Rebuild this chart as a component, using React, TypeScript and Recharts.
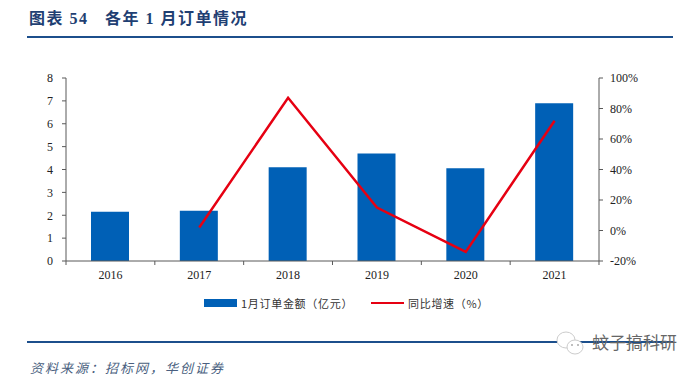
import { Bar, ComposedChart, Line, Legend, XAxis, YAxis } from 'recharts';

const years = ['2016', '2017', '2018', '2019', '2020', '2021'];
const orderAmount = [2.15, 2.2, 4.1, 4.7, 4.05, 6.9];
const yoyGrowth = [null, 2, 87, 15, -14, 72];
const leftTicks = [0, 1, 2, 3, 4, 5, 6, 7, 8];
const rightTicks = [-20, 0, 20, 40, 60, 80, 100];

const chartData = years.map((year, i) => ({
  year,
  amount: orderAmount[i],
  growth: yoyGrowth[i],
}));

const axisColor = '#595959';
const serif = '"Liberation Serif", "Noto Sans CJK SC", serif';
const cjk = '"Noto Sans CJK SC", sans-serif';
const bandWidth = 88.83;

// ticks in the reference sit between the categories, not under them
function YearTick({ x, y, payload, index }: any) {
  return (
    <g>
      {index === 0 && (
        <line x1={x - bandWidth / 2} x2={x - bandWidth / 2} y1={261} y2={265} stroke={axisColor} />
      )}
      <line x1={x + bandWidth / 2} x2={x + bandWidth / 2} y1={261} y2={265} stroke={axisColor} />
      <text x={x} y={y + 10} textAnchor="middle" fontFamily={serif} fontSize={12} fill="#222">
        {payload.value}
      </text>
    </g>
  );
}

function ChartLegend() {
  const label = { fontFamily: cjk, fontSize: 11, color: '#333', letterSpacing: 0.7 };
  return (
    <div style={{ position: 'relative', height: 14, width: 320 }}>
      <div style={{ position: 'absolute', left: 0, top: 3, width: 33, height: 8, background: '#0060b6' }} />
      <div style={{ position: 'absolute', left: 37, top: -1, whiteSpace: 'nowrap', ...label }}>
        1月订单金额（亿元）
      </div>
      <div style={{ position: 'absolute', left: 167, top: 6, width: 33, height: 2, background: '#e60012' }} />
      <div style={{ position: 'absolute', left: 204, top: -1, whiteSpace: 'nowrap', ...label }}>
        同比增速（%）
      </div>
    </div>
  );
}

function Rule({ top }: { top: number }) {
  return (
    <div style={{ position: 'absolute', left: 27, top, width: 646, height: 2, background: '#1c4f8c' }} />
  );
}

export default function App() {
  return (
    <div style={{ position: 'absolute', left: 0, top: 0, width: 700, height: 376, background: '#fff', overflow: 'hidden' }}>
      <div style={{ position: 'absolute', left: 29, top: 5, fontFamily: serif, fontSize: 16, fontWeight: 700, color: '#1f3f73', whiteSpace: 'pre', letterSpacing: 1.5 }}>
        图表 54{'   '}各年 1 月订单情况
      </div>
      <Rule top={36} />
      <ComposedChart
        width={700}
        height={376}
        data={chartData}
        margin={{ top: 78, left: 36, right: 61, bottom: 81 }}
      >
        <XAxis
          dataKey="year"
          xAxisId="x"
          height={20}
          axisLine={{ stroke: axisColor }}
          tickLine={false}
          tick={<YearTick />}
          interval={0}
        />
        <YAxis
          yAxisId="left"
          width={30}
          domain={[0, 8]}
          ticks={leftTicks}
          interval={0}
          axisLine={{ stroke: axisColor }}
          tickLine={{ stroke: axisColor }}
          tickSize={4}
          tickMargin={9}
          tick={{ fontFamily: serif, fontSize: 12, fill: '#222' }}
        />
        <YAxis
          yAxisId="right"
          orientation="right"
          width={40}
          domain={[-20, 100]}
          ticks={rightTicks}
          interval={0}
          axisLine={{ stroke: axisColor }}
          tickLine={{ stroke: axisColor }}
          tickSize={4}
          tickMargin={7}
          tickFormatter={(v: number) => `${v}%`}
          tick={{ fontFamily: serif, fontSize: 12, fill: '#222' }}
        />
        <Bar
          xAxisId="x"
          yAxisId="left"
          dataKey="amount"
          fill="#0060b6"
          barSize={38}
          isAnimationActive={false}
        />
        <Line
          xAxisId="x"
          yAxisId="right"
          dataKey="growth"
          stroke="#e60012"
          strokeWidth={2.5}
          dot={false}
          connectNulls={false}
          isAnimationActive={false}
        />
        <Legend
          content={<ChartLegend />}
          wrapperStyle={{ position: 'absolute', left: 204, top: 296, width: 320 }}
        />
      </ComposedChart>
      <Rule top={341} />
      <div style={{ position: 'absolute', left: 30, top: 360, fontFamily: cjk, fontSize: 13, lineHeight: '15px', fontStyle: 'italic', color: '#4a5f80', whiteSpace: 'nowrap', letterSpacing: 2 }}>
        资料来源：招标网，华创证券
      </div>
      <svg width={40} height={30} style={{ position: 'absolute', left: 555, top: 330 }}>
        <ellipse cx={11} cy={10} rx={9} ry={8} fill="#fff" stroke="#ccc" />
        <ellipse cx={20} cy={17} rx={8} ry={7} fill="#fff" stroke="#ccc" />
        <circle cx={17} cy={15} r={1} fill="#aaa" />
        <circle cx={23} cy={15} r={1} fill="#aaa" />
      </svg>
      <div style={{ position: 'absolute', left: 592, top: 332, fontFamily: cjk, fontSize: 17, lineHeight: '20px', color: '#666', whiteSpace: 'nowrap' }}>
        蚊子搞科研
      </div>
    </div>
  );
}
